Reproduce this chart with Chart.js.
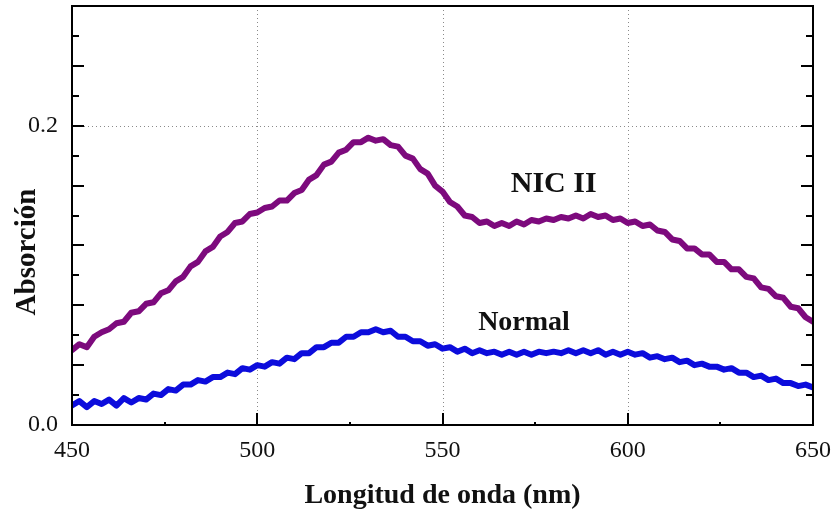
<!DOCTYPE html>
<html>
<head>
<meta charset="utf-8">
<script src="https://cdn.jsdelivr.net/npm/chart.js@4"></script>
<style>
  body { margin: 0; background: #fff; }
  canvas { display: block; }
</style>
</head>
<body>
<canvas id="chart" width="833" height="512"></canvas>
<script>
// wavelength (nm)
const wavelengths = [
  450, 452, 454, 456, 458, 460, 462, 464, 466, 468,
  470, 472, 474, 476, 478, 480, 482, 484, 486, 488,
  490, 492, 494, 496, 498, 500, 502, 504, 506, 508,
  510, 512, 514, 516, 518, 520, 522, 524, 526, 528,
  530, 532, 534, 536, 538, 540, 542, 544, 546, 548,
  550, 552, 554, 556, 558, 560, 562, 564, 566, 568,
  570, 572, 574, 576, 578, 580, 582, 584, 586, 588,
  590, 592, 594, 596, 598, 600, 602, 604, 606, 608,
  610, 612, 614, 616, 618, 620, 622, 624, 626, 628,
  630, 632, 634, 636, 638, 640, 642, 644, 646, 648,
  650
];

const nicII = [
  0.050, 0.054, 0.052, 0.059, 0.062, 0.064, 0.068, 0.069, 0.075, 0.076,
  0.081, 0.082, 0.088, 0.090, 0.096, 0.099, 0.106, 0.109, 0.116, 0.119,
  0.126, 0.129, 0.135, 0.136, 0.141, 0.142, 0.145, 0.146, 0.150, 0.150,
  0.155, 0.157, 0.164, 0.167, 0.174, 0.176, 0.182, 0.184, 0.189, 0.189,
  0.192, 0.190, 0.191, 0.187, 0.186, 0.180, 0.178, 0.171, 0.168, 0.160,
  0.156, 0.149, 0.146, 0.140, 0.139, 0.135, 0.136, 0.133, 0.135, 0.133,
  0.136, 0.134, 0.137, 0.136, 0.138, 0.137, 0.139, 0.138, 0.140, 0.138,
  0.141, 0.139, 0.140, 0.137, 0.138, 0.135, 0.136, 0.133, 0.134, 0.130,
  0.129, 0.124, 0.123, 0.118, 0.118, 0.114, 0.114, 0.109, 0.109, 0.104,
  0.104, 0.099, 0.098, 0.092, 0.091, 0.086, 0.085, 0.079, 0.078, 0.072,
  0.069
];

const normal = [
  0.013, 0.016, 0.012, 0.016, 0.014, 0.017, 0.013, 0.018, 0.015, 0.018,
  0.017, 0.021, 0.020, 0.024, 0.023, 0.027, 0.027, 0.030, 0.029, 0.032,
  0.032, 0.035, 0.034, 0.038, 0.037, 0.040, 0.039, 0.042, 0.041, 0.045,
  0.044, 0.048, 0.048, 0.052, 0.052, 0.055, 0.055, 0.059, 0.059, 0.062,
  0.062, 0.064, 0.062, 0.063, 0.059, 0.059, 0.056, 0.056, 0.053, 0.054,
  0.051, 0.052, 0.049, 0.051, 0.048, 0.050, 0.048, 0.049, 0.047, 0.049,
  0.047, 0.049, 0.047, 0.049, 0.048, 0.049, 0.048, 0.050, 0.048, 0.050,
  0.048, 0.050, 0.047, 0.049, 0.047, 0.049, 0.047, 0.048, 0.045, 0.046,
  0.044, 0.045, 0.042, 0.043, 0.040, 0.041, 0.039, 0.039, 0.037, 0.038,
  0.035, 0.035, 0.032, 0.033, 0.030, 0.031, 0.028, 0.028, 0.026, 0.027,
  0.025
];

const xTickLabels = [450, 500, 550, 600, 650];
const yTickLabels = [0.0, 0.2];

const serif = "'Liberation Serif', 'Times New Roman', serif";

function near(v, list) {
  return list.some(t => Math.abs(v - t) < 1e-6);
}

function noScalePadding(scale) {
  scale.paddingTop = 0;
  scale.paddingBottom = 0;
  scale.paddingLeft = 0;
  scale.paddingRight = 0;
}

// grid, inward ticks, frame and text labels
const framePlugin = {
  id: 'frame',
  beforeDatasetsDraw(chart) {
    let ctx = chart.ctx;
    let area = chart.chartArea;
    let xs = chart.scales.x, ys = chart.scales.y;
    ctx.save();
    ctx.strokeStyle = '#8a8a8a';
    ctx.lineWidth = 1;
    ctx.setLineDash([1, 3]);
    xTickLabels.forEach(v => {
      if (v === xs.min || v === xs.max) return;
      let px = Math.round(xs.getPixelForValue(v)) + 0.5;
      ctx.beginPath();
      ctx.moveTo(px, area.top);
      ctx.lineTo(px, area.bottom);
      ctx.stroke();
    });
    yTickLabels.forEach(v => {
      if (v === ys.min || v === ys.max) return;
      let py = Math.round(ys.getPixelForValue(v)) + 0.5;
      ctx.beginPath();
      ctx.moveTo(area.left, py);
      ctx.lineTo(area.right, py);
      ctx.stroke();
    });
    ctx.restore();
  },
  afterDatasetsDraw(chart) {
    let ctx = chart.ctx;
    let area = chart.chartArea;
    let xs = chart.scales.x, ys = chart.scales.y;
    ctx.save();
    ctx.strokeStyle = '#000';
    ctx.lineWidth = 2;
    ctx.setLineDash([]);
    // y ticks on both sides, pointing in
    ys.ticks.forEach(t => {
      if (t.value <= ys.min + 1e-6 || t.value >= ys.max - 1e-6) return;
      let major = Math.abs(Math.round(t.value / 0.04) * 0.04 - t.value) < 1e-6;
      let len = major ? 12 : 7;
      let py = Math.round(ys.getPixelForValue(t.value));
      ctx.beginPath();
      ctx.moveTo(area.left, py);
      ctx.lineTo(area.left + len, py);
      ctx.moveTo(area.right, py);
      ctx.lineTo(area.right - len, py);
      ctx.stroke();
    });
    // x ticks on bottom, pointing up
    xs.ticks.forEach(t => {
      if (t.value <= xs.min || t.value >= xs.max) return;
      let len = near(t.value, xTickLabels) ? 12 : 3;
      let px = Math.round(xs.getPixelForValue(t.value));
      ctx.beginPath();
      ctx.moveTo(px, area.bottom);
      ctx.lineTo(px, area.bottom - len);
      ctx.stroke();
    });
    ctx.strokeRect(area.left, area.top, area.right - area.left, area.bottom - area.top);
    ctx.restore();
  },
  afterDraw(chart) {
    let ctx = chart.ctx;
    let area = chart.chartArea;
    let xs = chart.scales.x, ys = chart.scales.y;
    ctx.save();
    ctx.fillStyle = '#111';
    ctx.textAlign = 'center';
    ctx.textBaseline = 'alphabetic';
    ctx.font = 'bold 28px ' + serif;
    ctx.fillText('Longitud de onda (nm)', (area.left + area.right) / 2, 503);

    ctx.save();
    ctx.translate(35, 252);
    ctx.rotate(-Math.PI / 2);
    ctx.font = 'bold 29px ' + serif;
    ctx.fillText('Absorción', 0, 0);
    ctx.restore();

    ctx.font = 'bold 30px ' + serif;
    ctx.fillText('NIC II', xs.getPixelForValue(580), ys.getPixelForValue(0.1556));
    ctx.font = 'bold 28px ' + serif;
    ctx.fillText('Normal', xs.getPixelForValue(572), ys.getPixelForValue(0.0634));
    ctx.restore();
  }
};

let ctx = document.getElementById('chart').getContext('2d');
let chart = new Chart(ctx, {
  type: 'line',
  data: {
    datasets: [
      {
        label: 'NIC II',
        data: wavelengths.map((w, i) => ({ x: w, y: nicII[i] })),
        borderColor: '#7d0a7d',
        borderWidth: 6
      },
      {
        label: 'Normal',
        data: wavelengths.map((w, i) => ({ x: w, y: normal[i] })),
        borderColor: '#0c0cdc',
        borderWidth: 6
      }
    ]
  },
  options: {
    responsive: false,
    animation: false,
    events: [],
    layout: { padding: { top: 6, right: 20, left: 0, bottom: 0 } },
    elements: {
      point: { radius: 0 },
      line: { tension: 0, borderJoinStyle: 'round', borderCapStyle: 'round' }
    },
    plugins: {
      legend: { display: false },
      tooltip: { enabled: false }
    },
    scales: {
      x: {
        type: 'linear',
        min: 450,
        max: 650,
        grid: { display: false },
        border: { display: false },
        ticks: {
          stepSize: 25,
          autoSkip: false,
          maxRotation: 0,
          padding: 3,
          color: '#111',
          font: { family: serif, size: 24 },
          callback: v => near(v, xTickLabels) ? String(v) : ''
        },
        afterFit: scale => { scale.height = 87; noScalePadding(scale); }
      },
      y: {
        min: 0,
        max: 0.28,
        grid: { display: false },
        border: { display: false },
        ticks: {
          stepSize: 0.02,
          autoSkip: false,
          padding: 6,
          color: '#111',
          font: { family: serif, size: 24 },
          callback: v => near(v, yTickLabels) ? v.toFixed(1) : ''
        },
        afterFit: scale => { scale.width = 72; noScalePadding(scale); }
      }
    }
  },
  plugins: [framePlugin]
});
</script>
</body>
</html>
